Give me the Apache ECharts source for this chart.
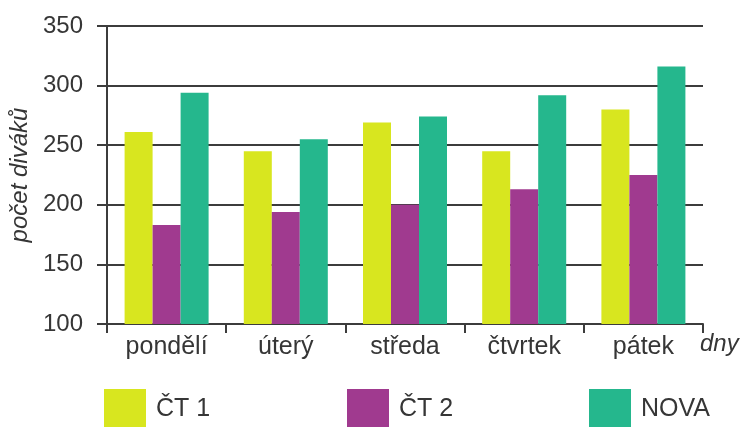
<!DOCTYPE html>
<html>
<head>
<meta charset="utf-8">
<script src="https://cdn.jsdelivr.net/npm/echarts@6/dist/echarts.min.js"></script>
<style>
    html, body { margin: 0; padding: 0; background: #fff; }
    #chart { width: 740px; height: 427px; }
</style>
</head>
<body>
<div id="chart"></div>
<script>
const days = ['pondělí', 'úterý', 'středa', 'čtvrtek', 'pátek'];
const ct1 = [261, 245, 269, 245, 280];
const ct2 = [183, 194, 200, 213, 225];
const nova = [294, 255, 274, 292, 316];
const yTicks = [100, 150, 200, 250, 300, 350];

(function () {
    const myChart = echarts.init(document.getElementById('chart'));
    const font = 'Liberation Sans, Arial, sans-serif';
    const ink = '#363636';
    const line = '#3c3c3c';

    const legendBase = {
        orient: 'horizontal',
        top: 389,
        padding: 0,
        itemWidth: 42,
        itemHeight: 40,
        icon: 'rect',
        selectedMode: false,
        textStyle: { fontFamily: font, fontSize: 25, color: ink, padding: [4, 0, 0, 5] }
    };

    const option = {
        animation: false,
        grid: { left: 107, right: 37, top: 26, bottom: 103, outerBoundsMode: 'none' },
        legend: [
            Object.assign({ left: 104, data: ['ČT 1'] }, legendBase),
            Object.assign({ left: 347, data: ['ČT 2'] }, legendBase),
            Object.assign({ left: 589, data: ['NOVA'] }, legendBase)
        ],
        xAxis: {
            type: 'category',
            data: days,
            name: 'dny',
            nameLocation: 'end',
            nameGap: -3,
            nameTextStyle: {
                fontFamily: font, fontSize: 24, fontStyle: 'italic', color: ink,
                verticalAlign: 'top', padding: [8, 0, 0, 0]
            },
            axisLine: { lineStyle: { color: line, width: 2 } },
            axisTick: { show: true, length: 9, lineStyle: { color: line, width: 2 } },
            axisLabel: { fontFamily: font, fontSize: 25, color: ink, margin: 11 }
        },
        yAxis: {
            type: 'value',
            min: yTicks[0],
            max: yTicks[yTicks.length - 1],
            interval: 50,
            name: 'počet diváků',
            nameLocation: 'middle',
            nameRotate: 90,
            nameGap: 68,
            nameTextStyle: { fontFamily: font, fontSize: 24, fontStyle: 'italic', color: ink },
            axisLine: { show: true, lineStyle: { color: line, width: 2 } },
            axisTick: { show: true, length: 10, lineStyle: { color: line, width: 2 } },
            axisLabel: { fontFamily: font, fontSize: 24, color: ink, margin: 24 },
            splitLine: { lineStyle: { color: line, width: 2 } }
        },
        series: [
            { name: 'ČT 1', type: 'bar', data: ct1, barWidth: 28, barGap: '0%', itemStyle: { color: '#d8e61f' } },
            { name: 'ČT 2', type: 'bar', data: ct2, barWidth: 28, barGap: '0%', itemStyle: { color: '#a03a8f' } },
            { name: 'NOVA', type: 'bar', data: nova, barWidth: 28, barGap: '0%', itemStyle: { color: '#25b78d' } }
        ]
    };

    myChart.setOption(option);
    window.addEventListener('resize', function () {
        myChart.resize();
    });
})();
</script>
</body>
</html>
